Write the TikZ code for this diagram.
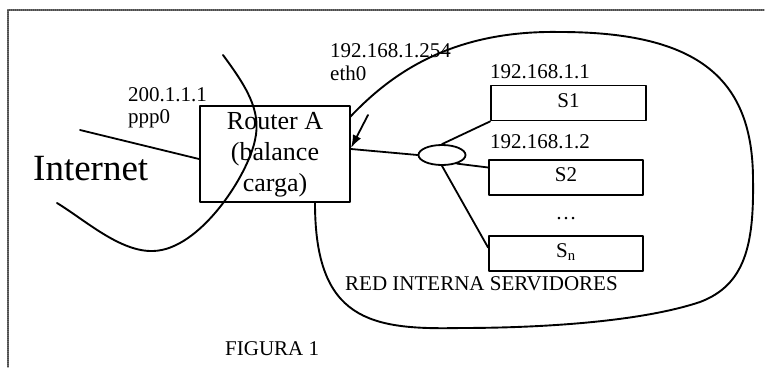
\documentclass[tikz,border=0pt]{standalone}
\usepackage{fontspec}
\setmainfont{Liberation Serif}
\usetikzlibrary{arrows.meta,positioning,shapes.geometric}

\begin{document}
\begin{tikzpicture}[x=1pt,y=-1pt,line cap=round,line join=round,
lbl/.style={font=\fontsize{21}{24}\selectfont,inner sep=0pt},
srv/.style={draw,line width=1.9pt,minimum width=154pt,minimum height=35pt,inner sep=0pt,text height=14pt,text depth=6pt,font=\fontsize{21}{24}\selectfont},
wire/.style={line width=1.8pt},
cloud/.style={line width=1.9pt}]
\useasboundingbox (0,0) rectangle (765,367);
\draw[black!70,line width=1.2pt,dash pattern=on 1pt off 1pt] (8,367)--(8,10)--(765,10);
% router and servers
\node[draw,line width=1.9pt,minimum width=150pt,minimum height=96pt,inner sep=0pt,align=center,text depth=4pt,font=\fontsize{26}{31}\selectfont] (router) at (275,154) {Router A\\(balance\\carga)};
\node[ellipse,draw,line width=1.8pt,minimum width=47pt,minimum height=20pt,inner sep=0pt] (hub) at (442,155) {};
\node[srv,minimum width=155pt] (s1) at (568.5,103) {S1};
\node[srv] (s2) at (566,177.5) {S2};
\node[srv] (sn) at (566,253.5) {S\textsubscript{n}};
\node[font=\fontsize{37}{40}\selectfont,inner sep=0pt,anchor=base west] (inet) at (33,180) {Internet};
% addresses
\node[lbl,anchor=base west] (ipA) at (128,101) {200.1.1.1};
\node[lbl,anchor=base west] (ifA) at (128,123) {ppp0};
\node[lbl,anchor=base west] (ipB) at (330,57) {192.168.1.254};
\node[lbl,anchor=base west] (ifB) at (330,80) {eth0};
\node[lbl,anchor=base west] (ip1) at (490,78) {192.168.1.1};
\node[lbl,anchor=base west] (ip2) at (490,148) {192.168.1.2};
\node[lbl,anchor=base] (dots) at (566,219) {…};
\node[lbl,anchor=base west] (red) at (345,290) {RED INTERNA SERVIDORES};
\node[lbl,anchor=base west] (fig) at (225,355) {FIGURA 1};
% links
\coordinate (wan) at (80,130);
\coordinate (tip) at (368,115);
\draw[wire] (wan) -- ([yshift=-5pt]router.west);
\draw[wire] ([yshift=5pt]router.east) -- (hub.west);
\draw[wire] (hub.north) -- (s1.south west);
\draw[wire] (hub.-30) -- ([yshift=10pt]s2.west);
\draw[wire] (hub.south) -- ([yshift=6pt]sn.west);
\draw[wire,-{Latex[length=13pt,width=9pt]}] (tip) -- ([yshift=6pt]router.east);
% internet and internal network
\draw[cloud] (223,55) .. controls (245,85) and (262,110) .. (255,140)
  .. controls (248,175) and (200,250) .. (153,251)
  .. controls (120,252) and (85,220) .. (57,203);
\draw[cloud] (350,117) .. controls (390,75) and (450,30) .. (560,32)
  .. controls (700,32) and (753,80) .. (753,180)
  .. controls (754,245) and (745,285) .. (700,302)
  .. controls (640,322) and (540,328) .. (460,328)
  .. controls (370,330) and (315,320) .. (315,203);
\end{tikzpicture}
\end{document}
